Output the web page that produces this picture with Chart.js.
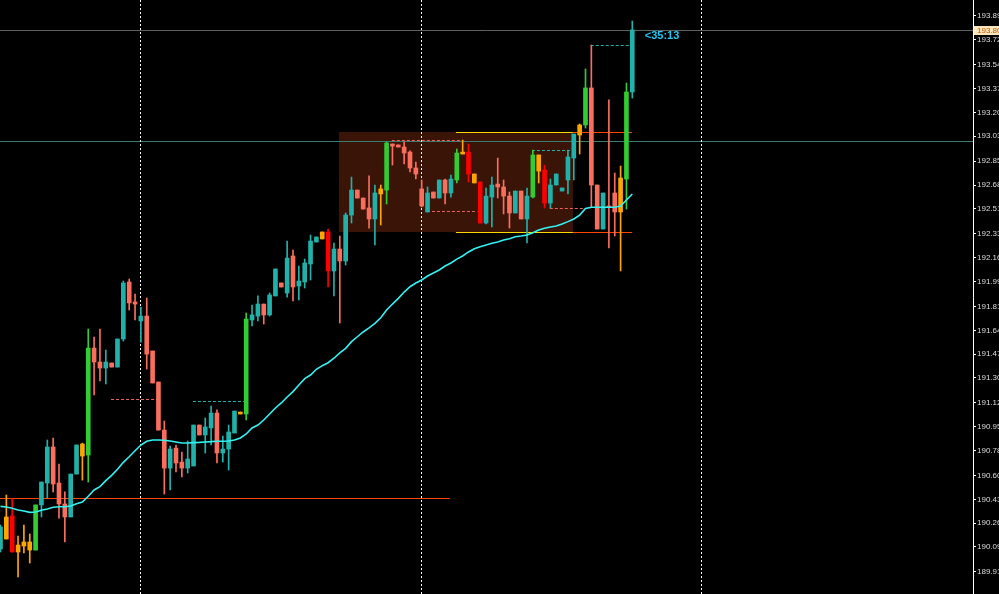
<!DOCTYPE html>
<html>
<head>
<meta charset="utf-8">
<script src="https://cdn.jsdelivr.net/npm/chart.js@4.4.1/dist/chart.umd.min.js"></script>
<style>
html, body { margin: 0; padding: 0; background: #000; }
#wrap { width: 999px; height: 594px; }
</style>
</head>
<body>
<div id="wrap"><canvas id="can" width="999" height="594"></canvas></div>
<script>
// price axis labels
var priceTicks = [193.89, 193.72, 193.54, 193.37, 193.20, 193.03, 192.85, 192.68, 192.51, 192.33, 192.16, 191.99,
                  191.81, 191.64, 191.47, 191.30, 191.12, 190.95, 190.78, 190.60, 190.43, 190.26, 190.09, 189.91];
var priceMin = 189.7525;
var priceMax = 194.0045;
var bidPrice = 193.793;
var bidLabel = '193.80';

// candles
var opens = [190.075,190.146,190.311,190.053,190.096,190.125,190.067,190.390,190.547,190.805,190.547,190.397,190.304,190.611,190.740,190.747,
  191.513,191.413,191.370,191.406,191.377,191.578,191.986,191.843,191.707,191.742,191.492,191.270,190.926,190.654,190.797,190.697,
  190.654,190.669,190.962,190.891,190.941,191.048,190.762,190.790,190.905,191.041,191.041,191.714,191.742,191.828,191.750,191.886,
  191.979,191.907,192.172,191.957,191.986,192.115,192.272,192.294,192.344,192.065,192.222,192.136,192.465,192.644,192.587,192.516,
  192.437,192.616,192.644,192.974,192.967,192.952,192.916,192.802,192.652,192.487,192.630,192.587,192.716,192.623,192.716,192.902,
  192.916,192.759,192.702,192.408,192.594,192.687,192.666,192.601,192.480,192.637,192.437,192.594,192.895,192.788,192.551,192.680,
  192.637,192.716,192.873,193.038,193.110,193.375,192.680,192.365,192.530,192.623,192.487,192.723,193.346];
var highs = [190.246,190.461,190.433,190.168,190.246,190.182,190.390,190.554,190.855,190.869,190.683,190.483,190.611,190.819,190.833,191.649,
  191.592,191.649,191.499,191.406,191.578,191.993,192.007,191.900,191.807,191.871,191.492,191.270,190.991,190.812,190.819,190.769,
  190.848,190.962,190.962,191.012,191.098,191.070,190.883,190.962,191.062,191.055,191.764,191.821,191.886,191.828,191.907,192.079,
  191.979,192.279,192.215,192.100,192.150,192.322,192.308,192.344,192.365,192.265,192.315,192.480,192.737,192.644,192.587,192.745,
  192.680,192.680,192.988,192.974,192.967,192.988,192.924,192.845,192.716,192.666,192.630,192.716,192.723,192.752,192.938,193.002,
  192.974,192.759,192.702,192.659,192.737,192.873,192.716,192.630,192.637,192.637,192.659,192.931,192.895,192.823,192.723,192.759,
  192.659,192.931,193.045,193.117,193.511,193.682,192.680,192.623,193.289,192.766,192.816,193.410,193.854];
var lows = [190.053,190.146,190.053,189.874,190.046,189.974,190.067,190.304,190.440,190.483,190.296,190.125,190.304,190.611,190.568,190.554,
  191.177,191.277,191.256,191.377,191.377,191.563,191.785,191.714,191.556,191.363,191.263,190.926,190.468,190.497,190.626,190.590,
  190.619,190.669,190.891,190.762,190.819,190.690,190.697,190.640,190.905,191.041,190.998,191.671,191.707,191.685,191.742,191.886,
  191.950,191.878,191.850,191.857,191.943,192.000,192.272,192.294,191.950,191.886,191.692,192.107,192.408,192.587,192.508,192.372,
  192.251,192.394,192.544,192.823,192.952,192.831,192.773,192.723,192.523,192.487,192.587,192.587,192.544,192.594,192.695,192.902,
  192.702,192.695,192.408,192.401,192.380,192.587,192.473,192.372,192.480,192.437,192.265,192.587,192.695,192.516,192.516,192.680,
  192.637,192.616,192.716,192.902,193.088,192.523,192.365,192.365,192.229,192.315,192.065,192.508,193.303];
var closes = [190.232,190.304,190.053,190.103,190.125,190.067,190.390,190.554,190.805,190.540,190.397,190.304,190.611,190.819,190.826,191.513,
  191.413,191.370,191.413,191.377,191.578,191.979,191.836,191.828,191.742,191.470,191.263,190.926,190.654,190.790,190.690,190.654,
  190.719,190.962,190.891,190.948,191.048,190.762,190.790,190.912,191.062,191.055,191.721,191.750,191.828,191.750,191.893,192.079,
  191.950,192.157,191.950,191.993,192.122,192.279,192.308,192.344,192.065,192.222,192.136,192.465,192.644,192.587,192.508,192.437,
  192.623,192.652,192.981,192.959,192.952,192.909,192.802,192.759,192.530,192.623,192.587,192.716,192.623,192.723,192.909,192.916,
  192.759,192.695,192.408,192.601,192.680,192.666,192.601,192.480,192.637,192.437,192.601,192.895,192.780,192.551,192.680,192.759,
  192.659,192.881,193.045,193.110,193.375,192.680,192.365,192.623,192.523,192.487,192.730,193.346,193.790];
// indicator state of each bar: u up, d down, G strong up, R strong down, n neutral
var barState = ['u','n','R','n','n','n','G','u','u','d','d','d','u','u','n','G',
  'd','d','u','d','u','u','d','d','u','d','d','d','d','u','d','d',
  'u','u','d','u','u','d','u','u','u','n','G','u','u','d','u','u',
  'd','u','d','u','u','u','u','n','R','u','d','u','u','d','d','d',
  'u','n','G','d','d','d','d','d','d','u','d','u','d','u','G','n',
  'R','n','R','u','u','d','d','d','u','d','u','G','n','R','u','u',
  'u','u','u','n','G','d','d','u','d','d','n','G','u'];
// moving average
var movingAvg = [190.380,190.375,190.366,190.354,190.346,190.337,190.339,190.352,190.361,190.373,190.377,190.377,190.382,190.399,190.411,190.452,
  190.497,190.521,190.564,190.602,190.645,190.695,190.735,190.778,190.819,190.846,190.855,190.855,190.853,190.848,190.841,190.833,
  190.833,190.836,190.838,190.841,190.843,190.846,190.846,190.848,190.855,190.869,190.898,190.941,190.962,190.998,191.041,191.084,
  191.120,191.163,191.201,191.249,191.294,191.320,191.361,191.387,191.408,191.440,191.478,191.511,191.559,191.594,191.628,191.657,
  191.690,191.730,191.785,191.828,191.869,191.914,191.952,191.979,192.000,192.029,192.050,192.072,192.100,192.122,192.150,192.172,
  192.201,192.224,192.239,192.251,192.263,192.272,192.286,192.296,192.310,192.315,192.322,192.339,192.358,192.370,192.380,192.387,
  192.401,192.418,192.437,192.465,192.513,192.521,192.521,192.521,192.521,192.521,192.530,192.573,192.616];

// objects on the chart (bar index / price)
var sessionStarts = [24, 72, 120];
var levelPrices = [192.993, 190.440];
var levelTo = [170, 76.8];
var boxStart = 57.85, boxEnd = 97.85, boxHigh = 193.060, boxLow = 192.344;
var rangeStart = 77.85, rangeSplit = 97.85, rangeEnd = 107.95;
var dashPrices = [191.146, 191.132, 193.000, 192.494, 192.929, 192.513, 193.680];
var dashFrom   = [18.9, 32.9, 66.9, 72.9, 90.85, 93.9, 100.9];
var dashTo     = [26.75, 41.6, 79.1, 81.5, 97.5, 100.8, 107.95];
var dashSide   = ['sell', 'buy', 'sell', 'sell', 'buy', 'sell', 'buy'];
var countdown = '<35:13';

var stateColor = { u: '#20b2aa', d: '#fa6e5e', G: '#32cd32', R: '#ff0000', n: '#ffa500' };
var sideColor = { buy: '#20b2aa', sell: '#f0605a' };

var bodies = [], wicks = [], maPts = [], colors = [];
for (var i = 0; i < opens.length; i++) {
    bodies.push({ x: i, y: [opens[i], closes[i]] });
    wicks.push({ x: i, y: [lows[i], highs[i]] });
    maPts.push({ x: i, y: movingAvg[i] });
    colors.push(stateColor[barState[i]]);
}

function hline(ctx, x1, x2, y) {
    y = Math.round(y) + 0.5;
    ctx.beginPath(); ctx.moveTo(x1, y); ctx.lineTo(x2, y); ctx.stroke();
}

var overlay = {
    id: 'overlay',
    beforeDatasetsDraw: function (chart) {
        var ctx = chart.ctx, xs = chart.scales.x, ys = chart.scales.y, a = chart.chartArea;
        ctx.save();
        ctx.beginPath();
        ctx.rect(a.left, a.top, a.right - a.left, a.bottom - a.top);
        ctx.clip();

        // range box
        var bx1 = xs.getPixelForValue(boxStart), bx2 = xs.getPixelForValue(boxEnd);
        var by1 = ys.getPixelForValue(boxHigh), by2 = ys.getPixelForValue(boxLow);
        ctx.fillStyle = '#3a1407';
        ctx.fillRect(bx1, by1, bx2 - bx1, by2 - by1);

        ctx.lineWidth = 1;
        // bid line
        ctx.strokeStyle = '#566464';
        hline(ctx, a.left, a.right, ys.getPixelForValue(bidPrice));
        // levels
        ctx.strokeStyle = '#3a7c72';
        hline(ctx, a.left, xs.getPixelForValue(levelTo[0]), ys.getPixelForValue(levelPrices[0]));
        ctx.strokeStyle = '#ff4500';
        hline(ctx, a.left, xs.getPixelForValue(levelTo[1]), ys.getPixelForValue(levelPrices[1]));

        // range lines
        var r1 = xs.getPixelForValue(rangeStart), r2 = xs.getPixelForValue(rangeSplit), r3 = xs.getPixelForValue(rangeEnd);
        [boxHigh, boxLow].forEach(function (p) {
            var y = ys.getPixelForValue(p);
            ctx.strokeStyle = '#ffd700'; hline(ctx, r1, r2, y);
            ctx.strokeStyle = '#ff4500'; hline(ctx, r2, r3, y);
        });

        // dashed trade lines
        ctx.setLineDash([3, 2]);
        for (var k = 0; k < dashPrices.length; k++) {
            ctx.strokeStyle = sideColor[dashSide[k]];
            hline(ctx, xs.getPixelForValue(dashFrom[k]), xs.getPixelForValue(dashTo[k]), ys.getPixelForValue(dashPrices[k]));
        }

        // session separators
        ctx.setLineDash([2, 2]);
        ctx.strokeStyle = '#ffffff';
        sessionStarts.forEach(function (s) {
            var x = Math.round(xs.getPixelForValue(s)) - 0.5;
            ctx.beginPath(); ctx.moveTo(x, a.top); ctx.lineTo(x, a.bottom); ctx.stroke();
        });
        ctx.restore();
    },
    afterDraw: function (chart) {
        var ctx = chart.ctx, xs = chart.scales.x, ys = chart.scales.y, a = chart.chartArea;
        ctx.save();
        // current price tag
        var y = Math.round(ys.getPixelForValue(bidPrice));
        ctx.fillStyle = '#fde6bd';
        ctx.fillRect(a.right + 1, y - 4, 999 - a.right, 9);
        ctx.fillStyle = '#c05a00';
        ctx.font = '8px "Liberation Sans"';
        ctx.textBaseline = 'middle';
        ctx.fillText(bidLabel, a.right + 4, y + 0.5);
        // bar countdown
        ctx.fillStyle = '#22c8f5';
        ctx.font = 'bold 11px "Liberation Sans"';
        ctx.fillText(countdown, xs.getPixelForValue(opens.length - 1) + 12.5, 36);
        ctx.restore();
    }
};

var ctx = document.getElementById('can').getContext('2d');
window.myChart = new Chart(ctx, {
    type: 'bar',
    data: {
        datasets: [
            {
                type: 'line',
                data: maPts,
                borderColor: '#33f2f2',
                borderWidth: 1.6,
                pointRadius: 0,
                tension: 0,
                order: 0
            },
            {
                data: bodies,
                backgroundColor: colors,
                barThickness: 4,
                minBarLength: 1,
                grouped: false,
                order: 1
            },
            {
                data: wicks,
                backgroundColor: colors,
                barThickness: 1,
                grouped: false,
                order: 2
            }
        ]
    },
    plugins: [overlay],
    options: {
        responsive: false,
        animation: false,
        events: [],
        layout: { padding: 0 },
        plugins: { legend: { display: false }, tooltip: { enabled: false } },
        scales: {
            x: {
                type: 'linear',
                display: false,
                min: -0.085,
                max: 166.24,
                offset: false
            },
            y: {
                position: 'right',
                min: priceMin,
                max: priceMax,
                afterBuildTicks: function (s) {
                    s.ticks = priceTicks.map(function (v) { return { value: v }; });
                },
                afterFit: function (s) {
                    s.width = 26;
                    s.paddingTop = 0;
                    s.paddingBottom = 0;
                },
                ticks: {
                    autoSkip: false,
                    color: '#dcdcdc',
                    padding: 1,
                    font: { size: 8, family: '"Liberation Sans"' },
                    callback: function (v) { return v.toFixed(2); }
                },
                grid: { drawOnChartArea: false, drawTicks: true, tickLength: 3, tickColor: '#ffffff' },
                border: { display: true, color: '#ffffff', width: 1 }
            }
        }
    }
});
</script>
</body>
</html>
